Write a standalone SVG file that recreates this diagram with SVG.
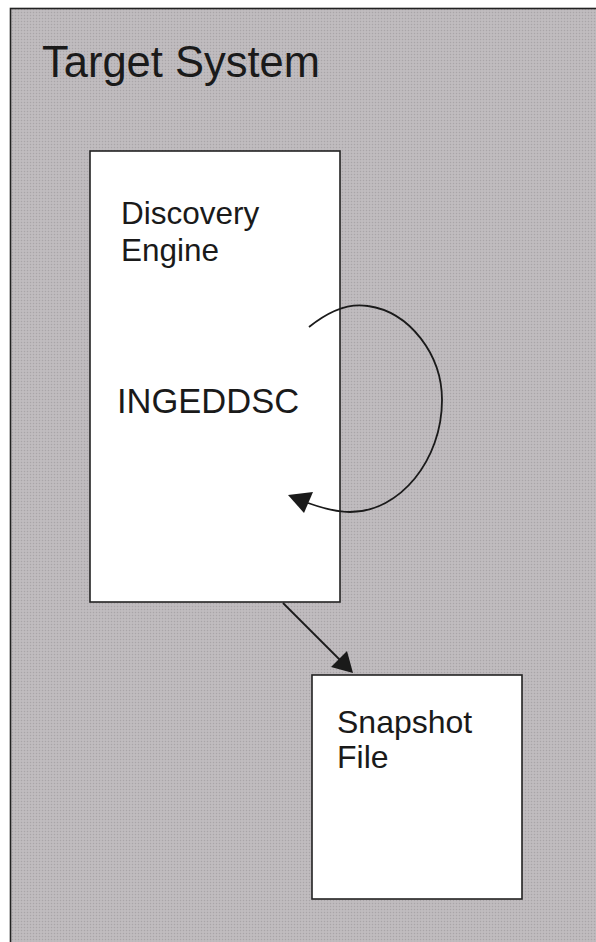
<svg xmlns="http://www.w3.org/2000/svg" width="596" height="942" viewBox="0 0 596 942">
<defs>
<pattern id="dots" width="3" height="3" patternUnits="userSpaceOnUse">
<rect width="3" height="3" fill="#bcb8bb"/>
<rect width="1" height="1" fill="#a9a5a8"/>
<rect x="1.5" y="1.5" width="1" height="1" fill="#cdc9cc"/>
</pattern>
</defs>
<style>
.box{fill:#ffffff;stroke:#222;stroke-width:1.6}
.lbl{font-family:"Liberation Sans",Arial,sans-serif;fill:#1a1a1a}
.conn{fill:none;stroke:#1a1a1a;stroke-width:1.8}
.head{fill:#1a1a1a;stroke:none}
</style>
<rect width="596" height="942" fill="#ffffff"/>
<g id="target-system">
<rect x="10.5" y="8.5" width="600" height="950" fill="url(#dots)" stroke="#222" stroke-width="1.6"/>
<text class="lbl" x="42" y="77" font-size="43.5">Target System</text>
</g>
<g id="discovery-engine">
<rect class="box" x="90" y="151" width="250" height="451"/>
<text class="lbl" x="121" y="224" font-size="31.5">Discovery</text>
<text class="lbl" x="121" y="261" font-size="31.5">Engine</text>
<text class="lbl" x="117" y="413" font-size="34.5">INGEDDSC</text>
</g>
<g id="snapshot-file">
<rect class="box" x="312" y="675" width="210" height="224"/>
<text class="lbl" x="337" y="733" font-size="32">Snapshot</text>
<text class="lbl" x="337" y="768" font-size="32">File</text>
</g>
<g id="connectors">
<path class="conn" d="M309,327 C330,310 350,303 368,306 C410,312 442,355 442,400 C442,460 400,512 350,512 C335,512 322,508 308,503"/>
<polygon class="head" points="288,495 313,492 304,513"/>
<line class="conn" x1="283" y1="603" x2="342" y2="662"/>
<polygon class="head" points="353,673 331,667 347,651"/>
</g>
</svg>
